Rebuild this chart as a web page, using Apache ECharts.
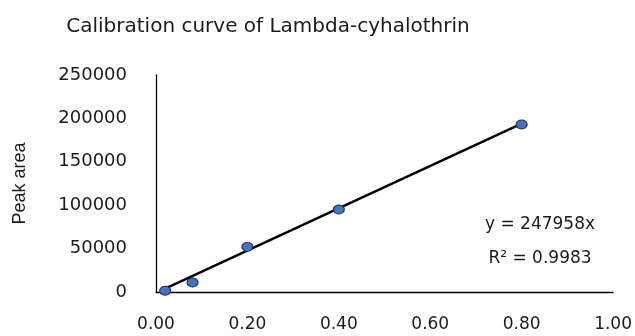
<!DOCTYPE html>
<html>
<head>
<meta charset="utf-8">
<script src="https://cdn.jsdelivr.net/npm/echarts@6/dist/echarts.min.js"></script>
<style>
  html, body { margin: 0; padding: 0; background: #fff; }
  #chart { width: 635px; height: 336px; }
</style>
</head>
<body>
<div id="chart"></div>
<script>
// measured points (concentration, peak area)
const conc = [0.02, 0.08, 0.20, 0.40, 0.80]
const peakArea = [1500, 11000, 52000, 95000, 193000]
// linear trendline ends as drawn (y = 247958x)
const trendX = [0.02, 0.80]
const trendY = [4000, 194000]
const yTicks = [0, 50000, 100000, 150000, 200000, 250000]
const xTicks = [0, 0.2, 0.4, 0.6, 0.8, 1.0]

const chart = echarts.init(document.getElementById('chart'))
const txt = '#1a1a1a'

chart.setOption({
  animation: false,
  grid: { left: 156, right: 20, top: 75, bottom: 44 },
  xAxis: {
    type: 'value',
    min: xTicks[0],
    max: xTicks[xTicks.length - 1],
    interval: 0.2,
    axisLine: { show: true, lineStyle: { color: '#000', width: 1.3 } },
    axisTick: { show: false },
    splitLine: { show: false },
    axisLabel: {
      margin: 24,
      color: txt,
      fontFamily: 'DejaVu Sans',
      fontSize: 17,
      formatter: v => v.toFixed(2)
    }
  },
  yAxis: {
    type: 'value',
    min: yTicks[0],
    max: yTicks[yTicks.length - 1],
    interval: 50000,
    name: 'Peak area',
    nameLocation: 'middle',
    nameGap: 127,
    nameRotate: 90,
    nameTextStyle: { fontFamily: 'Liberation Sans', fontSize: 18, color: txt },
    axisLine: { show: true, lineStyle: { color: '#000', width: 1.3 } },
    axisTick: { show: false },
    splitLine: { show: false },
    axisLabel: {
      margin: 29,
      color: txt,
      fontFamily: 'DejaVu Sans',
      fontSize: 18,
      formatter: v => String(v)
    }
  },
  graphic: [
    {
      type: 'text', x: 268, y: 27,
      style: {
        text: 'Calibration curve of Lambda-cyhalothrin',
        align: 'center', verticalAlign: 'middle',
        fontFamily: 'DejaVu Sans', fontSize: 20, fill: txt
      }
    },
    {
      type: 'text', x: 540, y: 225,
      style: {
        text: 'y = 247958x', align: 'center', verticalAlign: 'middle',
        fontFamily: 'DejaVu Sans', fontSize: 17, fill: txt
      }
    },
    {
      type: 'text', x: 540, y: 259,
      style: {
        text: 'R² = 0.9983', align: 'center', verticalAlign: 'middle',
        fontFamily: 'DejaVu Sans', fontSize: 17, fill: txt
      }
    }
  ],
  series: [
    {
      type: 'line',
      data: trendX.map((x, i) => [x, trendY[i]]),
      symbol: 'none',
      lineStyle: { color: '#000', width: 2.5 },
      z: 2
    },
    {
      type: 'scatter',
      data: conc.map((x, i) => [x, peakArea[i]]),
      symbol: 'circle',
      symbolSize: [11, 9],
      itemStyle: { color: '#4472C4', borderColor: '#1f2d4a', borderWidth: 1, opacity: 1 },
      z: 3
    }
  ]
})
</script>
</body>
</html>
